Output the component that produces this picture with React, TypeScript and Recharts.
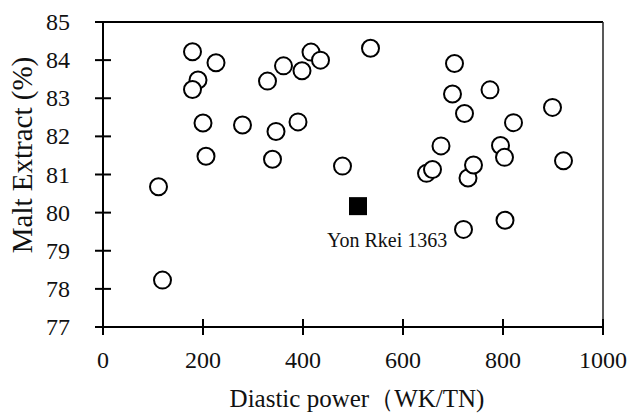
import React from "react";
import { ScatterChart, Scatter, XAxis, YAxis, ReferenceLine } from "recharts";

const diasticPower = [111, 119, 179, 190, 179, 200, 206, 226, 279, 329, 339, 346, 361, 390, 398, 416, 435, 479, 535, 647, 659, 676, 699, 703, 721, 723, 730, 741, 774, 795, 803, 804, 821, 899, 921];
const maltExtract = [80.68, 78.23, 84.22, 83.48, 83.23, 82.35, 81.48, 83.93, 82.3, 83.45, 81.4, 82.13, 83.85, 82.38, 83.72, 84.21, 84.0, 81.22, 84.31, 81.03, 81.13, 81.75, 83.11, 83.91, 79.56, 82.6, 80.91, 81.25, 83.22, 81.76, 81.45, 79.8, 82.36, 82.76, 81.36];

const refName = "Yon Rkei 1363";
const refPower = [510];
const refExtract = [80.17];

const xTicks = [0, 200, 400, 600, 800, 1000];
const yTicks = [77, 78, 79, 80, 81, 82, 83, 84, 85];

const W = 631;
const H = 416;
const PLOT_LEFT = 103;
const PLOT_TOP = 22;
const PLOT_RIGHT = 603;
const PLOT_BOTTOM = 327;

const FONT = "'Liberation Serif', 'Times New Roman', serif";

const cultivars = diasticPower.map((x, i) => ({ x, y: maltExtract[i] }));
const reference = refPower.map((x, i) => ({ x, y: refExtract[i] }));

const XTick = (props: any) => {
  const { x, payload } = props;
  return (
    <g>
      <line x1={x} x2={x} y1={PLOT_BOTTOM - 8} y2={PLOT_BOTTOM + 8} stroke="#000" strokeWidth={2} />
      <text x={x} y={PLOT_BOTTOM + 41} textAnchor="middle" fontFamily={FONT} fontSize={24} fill="#111">
        {payload.value}
      </text>
    </g>
  );
};

const YTick = (props: any) => {
  const { y, payload } = props;
  return (
    <g>
      <line x1={PLOT_LEFT - 8} x2={PLOT_LEFT + 8} y1={y} y2={y} stroke="#000" strokeWidth={2} />
      <text x={PLOT_LEFT - 33} y={y + 8} textAnchor="end" fontFamily={FONT} fontSize={24} fill="#111">
        {payload.value}
      </text>
    </g>
  );
};

const CircleShape = (p: any) => (
  <circle cx={p.cx} cy={p.cy} r={8.5} fill="#fff" stroke="#000" strokeWidth={2} />
);

const SquareShape = (p: any) => (
  <g>
    <rect x={p.cx - 9} y={p.cy - 9} width={18} height={18} fill="#000" />
    <text x={p.cx - 31} y={p.cy + 41} fontFamily={FONT} fontSize={20} fill="#111">
      {refName}
    </text>
  </g>
);

const XLabel = () => (
  <text x={(PLOT_LEFT + PLOT_RIGHT) / 2 + 4} y={407} textAnchor="middle" fontFamily={FONT} fontSize={25} fill="#111">
    Diastic power（WK/TN)
  </text>
);

const YLabel = () => (
  <text
    x={0}
    y={0}
    transform={`translate(${32}, ${155}) rotate(-90)`}
    textAnchor="middle"
    fontFamily={FONT}
    fontSize={29}
    fill="#111"
  >
    Malt Extract (%)
  </text>
);

export default function App() {
  return (
    <div style={{ position: "absolute", left: 0, top: 0, width: W, height: H, background: "#fff" }}>
      <ScatterChart
        width={W}
        height={H}
        margin={{ top: PLOT_TOP, right: W - PLOT_RIGHT, bottom: 0, left: 0 }}
      >
        <XAxis
          type="number"
          dataKey="x"
          domain={[0, 1000]}
          ticks={xTicks}
          interval={0}
          height={H - PLOT_BOTTOM}
          axisLine={{ stroke: "#000", strokeWidth: 2 }}
          tickLine={false}
          tick={<XTick />}
          label={<XLabel />}
        />
        <YAxis
          type="number"
          dataKey="y"
          domain={[77, 85]}
          ticks={yTicks}
          interval={0}
          width={PLOT_LEFT}
          axisLine={{ stroke: "#000", strokeWidth: 2 }}
          tickLine={false}
          tick={<YTick />}
          label={<YLabel />}
        />
        <ReferenceLine y={85} stroke="#000" strokeWidth={2} />
        <ReferenceLine x={1000} stroke="#222" strokeWidth={1.5} />
        <Scatter data={cultivars} shape={<CircleShape />} isAnimationActive={false} />
        <Scatter data={reference} shape={<SquareShape />} isAnimationActive={false} />
      </ScatterChart>
    </div>
  );
}
